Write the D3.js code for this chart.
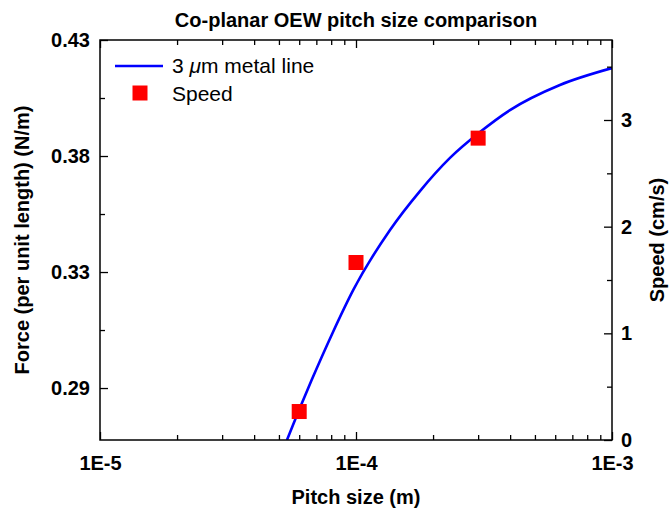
<!DOCTYPE html>
<html>
<head>
<meta charset="utf-8">
<script src="https://cdn.jsdelivr.net/npm/d3@7"></script>
<style>
body { margin: 0; background: #fff; }
text { font-family: "Liberation Sans", Arial, sans-serif; }
</style>
</head>
<body>
<svg id="chart" width="670" height="510"></svg>
<script>
// curve: force per unit length vs pitch size (3 um metal line)
const pitch = [5.375e-5, 5.99e-5, 6.71e-5, 8.10e-5, 9.76e-5, 1.358e-4, 1.778e-4, 2.329e-4, 3.05e-4, 3.995e-4, 6.26e-4, 1e-3];
const force = [0.2645, 0.2769, 0.2893, 0.3088, 0.3266, 0.3514, 0.3675, 0.3812, 0.3919, 0.4010, 0.4114, 0.4184];

// measured speed
const speedPitch = [6e-5, 1e-4, 3e-4];
const speed = [0.267, 1.664, 2.83];

const forceTicks = [0.43, 0.382, 0.334, 0.286];
const forceMinor = [0.406, 0.358, 0.31];
const speedTicks = [0, 1, 2, 3];
const speedMinor = [0.5, 1.5, 2.5, 3.5];
const pitchTicks = [1e-5, 1e-4, 1e-3];

var m = {left: 100, right: 612, top: 40, bottom: 440};
var svg = d3.select("#chart");

var x = d3.scaleLog().domain([1e-5, 1e-3]).range([m.left, m.right]);
var yF = d3.scaleLinear().domain([0.2645, 0.43]).range([m.bottom, m.top]);
var yS = d3.scaleLinear().domain([0, 3.75]).range([m.bottom, m.top]);

var pitchMinor = [];
[1e-5, 1e-4].forEach(function(d) {
	for (var k = 2; k <= 9; k++) pitchMinor.push(d * k);
});

svg.append("clipPath").attr("id", "clip")
	.append("rect").attr("x", m.left).attr("y", m.top)
	.attr("width", m.right - m.left).attr("height", m.bottom - m.top);

// curve
var line = d3.line()
	.x(function(d) { return x(d[0]); })
	.y(function(d) { return yF(d[1]); })
	.curve(d3.curveMonotoneX);
svg.append("path")
	.datum(d3.zip(pitch, force))
	.attr("clip-path", "url(#clip)")
	.attr("fill", "none")
	.attr("stroke", "#0000ff")
	.attr("stroke-width", 2.6)
	.attr("d", line);

// speed squares
var sq = 15;
svg.selectAll("rect.sp")
	.data(d3.zip(speedPitch, speed))
	.enter()
	.append("rect")
	.attr("class", "sp")
	.attr("x", function(d) { return x(d[0]) - sq / 2; })
	.attr("y", function(d) { return yS(d[1]) - sq / 2; })
	.attr("width", sq)
	.attr("height", sq)
	.attr("fill", "#ff0000");

// axes
function styleAxis(g) {
	g.select(".domain").remove();
	g.selectAll("line").attr("stroke", "#000").attr("stroke-width", 1.3);
	g.selectAll("text").attr("fill", "#000").attr("font-weight", "bold").attr("font-size", 20);
}

var fmtPitch = function(d) { return "1E" + Math.round(Math.log10(d)); };

svg.append("g").attr("transform", "translate(0," + m.bottom + ")")
	.call(d3.axisBottom(x).tickValues(pitchTicks).tickFormat(fmtPitch).tickSizeInner(-8).tickSizeOuter(0).tickPadding(16))
	.call(styleAxis);
svg.append("g").attr("transform", "translate(0," + m.bottom + ")")
	.call(d3.axisBottom(x).tickValues(pitchMinor).tickFormat("").tickSizeInner(-5).tickSizeOuter(0))
	.call(styleAxis);
svg.append("g").attr("transform", "translate(0," + m.top + ")")
	.call(d3.axisTop(x).tickValues(pitchTicks).tickFormat("").tickSizeInner(-8).tickSizeOuter(0))
	.call(styleAxis);
svg.append("g").attr("transform", "translate(0," + m.top + ")")
	.call(d3.axisTop(x).tickValues(pitchMinor).tickFormat("").tickSizeInner(-5).tickSizeOuter(0))
	.call(styleAxis);

svg.append("g").attr("transform", "translate(" + m.left + ",0)")
	.call(d3.axisLeft(yF).tickValues(forceTicks).tickFormat(d3.format(".2f")).tickSizeInner(-8).tickSizeOuter(0).tickPadding(10))
	.call(styleAxis);
svg.append("g").attr("transform", "translate(" + m.left + ",0)")
	.call(d3.axisLeft(yF).tickValues(forceMinor).tickFormat("").tickSizeInner(-5).tickSizeOuter(0))
	.call(styleAxis);

svg.append("g").attr("transform", "translate(" + m.right + ",0)")
	.call(d3.axisRight(yS).tickValues(speedTicks).tickFormat(d3.format("d")).tickSizeInner(-8).tickSizeOuter(0).tickPadding(9))
	.call(styleAxis);
svg.append("g").attr("transform", "translate(" + m.right + ",0)")
	.call(d3.axisRight(yS).tickValues(speedMinor).tickFormat("").tickSizeInner(-5).tickSizeOuter(0))
	.call(styleAxis);

// frame
svg.append("rect")
	.attr("x", m.left).attr("y", m.top)
	.attr("width", m.right - m.left).attr("height", m.bottom - m.top)
	.attr("fill", "none").attr("stroke", "#000").attr("stroke-width", 1.5);

// titles
svg.append("text").attr("x", (m.left + m.right) / 2).attr("y", 27)
	.attr("text-anchor", "middle").attr("font-weight", "bold").attr("font-size", 20)
	.text("Co-planar OEW pitch size comparison");
svg.append("text").attr("x", (m.left + m.right) / 2).attr("y", 504)
	.attr("text-anchor", "middle").attr("font-weight", "bold").attr("font-size", 20)
	.text("Pitch size (m)");
svg.append("text").attr("transform", "translate(29," + (m.top + m.bottom) / 2 + ") rotate(-90)")
	.attr("text-anchor", "middle").attr("font-weight", "bold").attr("font-size", 20)
	.text("Force (per unit length) (N/m)");
svg.append("text").attr("transform", "translate(664," + (m.top + m.bottom) / 2 + ") rotate(-90)")
	.attr("text-anchor", "middle").attr("font-weight", "bold").attr("font-size", 20)
	.text("Speed (cm/s)");

// legend
var lg = svg.append("g");
lg.append("line").attr("x1", 115).attr("x2", 163).attr("y1", 66).attr("y2", 66)
	.attr("stroke", "#0000ff").attr("stroke-width", 2.6);
var t1 = lg.append("text").attr("x", 172).attr("y", 73).attr("font-size", 21);
t1.append("tspan").text("3 ");
t1.append("tspan").attr("font-style", "italic").text("\u03bc");
t1.append("tspan").text("m metal line");
lg.append("rect").attr("x", 140 - sq / 2).attr("y", 93 - sq / 2).attr("width", sq).attr("height", sq).attr("fill", "#ff0000");
lg.append("text").attr("x", 172).attr("y", 101).attr("font-size", 21).text("Speed");
</script>
</body>
</html>
